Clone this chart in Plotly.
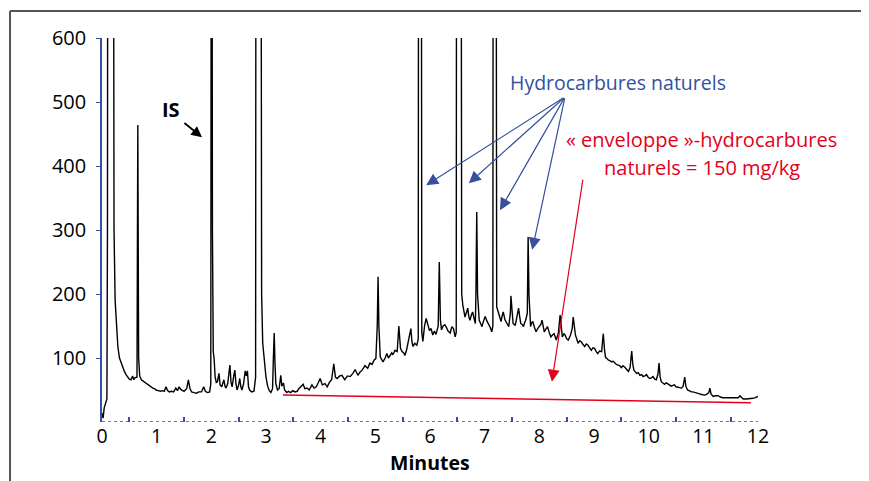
import plotly.graph_objects as go

# ----------------------------- Chart data ----------------------------- #
# chromatogram: retention time [min] / detector response
minutes = [
    0.00, 0.02, 0.04, 0.07, 0.09, 0.10, 0.11, 0.20, 0.22, 0.24, 0.26, 0.29, 0.32, 0.35, 0.38, 0.41, 0.44, 0.47, 0.50, 0.53,
    0.56, 0.58, 0.60, 0.64, 0.655, 0.67, 0.69, 0.72, 0.75, 0.78, 0.81, 0.84, 0.87, 0.90, 0.93, 0.96, 0.99, 1.03, 1.07, 1.11,
    1.14, 1.17, 1.20, 1.23, 1.27, 1.31, 1.35, 1.38, 1.41, 1.44, 1.47, 1.50, 1.55, 1.58, 1.61, 1.64, 1.68, 1.73, 1.77, 1.82,
    1.86, 1.89, 1.93, 1.97, 1.99, 2.005, 2.02, 2.035, 2.05, 2.07, 2.09, 2.11, 2.14, 2.16, 2.19, 2.21, 2.23, 2.25, 2.27, 2.30,
    2.34, 2.36, 2.38, 2.41, 2.43, 2.45, 2.47, 2.50, 2.52, 2.54, 2.56, 2.59, 2.62, 2.64, 2.66, 2.68, 2.70, 2.74, 2.78, 2.81,
    2.82, 2.90, 2.92, 2.94, 2.97, 3.00, 3.03, 3.06, 3.09, 3.12, 3.135, 3.15, 3.165, 3.18, 3.21, 3.24, 3.27, 3.29, 3.32, 3.34,
    3.38, 3.41, 3.45, 3.49, 3.53, 3.57, 3.60, 3.64, 3.68, 3.71, 3.75, 3.79, 3.84, 3.88, 3.92, 3.96, 3.99, 4.03, 4.08, 4.12,
    4.16, 4.20, 4.24, 4.27, 4.30, 4.35, 4.39, 4.44, 4.49, 4.54, 4.59, 4.63, 4.68, 4.72, 4.76, 4.81, 4.86, 4.90, 4.94, 4.98,
    5.01, 5.035, 5.05, 5.065, 5.09, 5.12, 5.14, 5.18, 5.21, 5.24, 5.27, 5.30, 5.32, 5.36, 5.40, 5.43, 5.46, 5.49, 5.52, 5.54,
    5.57, 5.60, 5.63, 5.65, 5.67, 5.69, 5.72, 5.76, 5.785, 5.795, 5.835, 5.85, 5.87, 5.90, 5.93, 5.96, 5.99, 6.02, 6.05, 6.08,
    6.11, 6.15, 6.17, 6.19, 6.21, 6.24, 6.27, 6.30, 6.33, 6.37, 6.40, 6.43, 6.46, 6.48, 6.49, 6.56, 6.58, 6.60, 6.62, 6.64,
    6.67, 6.69, 6.71, 6.73, 6.76, 6.78, 6.81, 6.83, 6.84, 6.855, 6.87, 6.90, 6.93, 6.95, 6.98, 7.01, 7.04, 7.07, 7.10, 7.13,
    7.15, 7.16, 7.20, 7.22, 7.25, 7.28, 7.30, 7.32, 7.34, 7.37, 7.40, 7.42, 7.44, 7.47, 7.48, 7.50, 7.52, 7.56, 7.59, 7.62,
    7.64, 7.66, 7.69, 7.71, 7.73, 7.75, 7.78, 7.795, 7.81, 7.84, 7.86, 7.88, 7.91, 7.94, 7.97, 8.00, 8.03, 8.05, 8.07, 8.09,
    8.12, 8.15, 8.18, 8.21, 8.24, 8.27, 8.31, 8.35, 8.38, 8.40, 8.42, 8.45, 8.47, 8.50, 8.53, 8.57, 8.60, 8.62, 8.64, 8.66,
    8.69, 8.71, 8.74, 8.77, 8.80, 8.83, 8.86, 8.89, 8.92, 8.95, 8.98, 9.01, 9.04, 9.07, 9.10, 9.14, 9.155, 9.17, 9.19, 9.21,
    9.24, 9.26, 9.29, 9.32, 9.35, 9.38, 9.41, 9.44, 9.47, 9.50, 9.53, 9.56, 9.60, 9.63, 9.66, 9.69, 9.71, 9.73, 9.76, 9.78,
    9.81, 9.84, 9.87, 9.90, 9.93, 9.96, 9.99, 10.02, 10.05, 10.08, 10.11, 10.14, 10.17, 10.19, 10.21, 10.23, 10.26, 10.29, 10.32, 10.35,
    10.38, 10.41, 10.44, 10.47, 10.50, 10.54, 10.57, 10.60, 10.63, 10.66, 10.68, 10.71, 10.74, 10.78, 10.81, 10.84, 10.88, 10.93, 10.97, 11.02,
    11.06, 11.10, 11.12, 11.14, 11.18, 11.22, 11.27, 11.31, 11.36, 11.41, 11.45, 11.50, 11.55, 11.61, 11.64, 11.67, 11.70, 11.73, 11.78, 11.82,
    11.87, 11.91, 11.95, 12.00,
]
response = [
    14, 6, 22, 30, 36, 300, 1500, 1500, 300, 190, 160, 118, 100, 92, 84, 79, 74, 71, 67, 66,
    72, 66, 69, 70, 464, 100, 72, 66, 64, 62, 60, 59, 56, 55, 53, 52, 50, 49, 48, 49,
    48, 55, 49, 47, 48, 47, 53, 49, 55, 51, 50, 48, 52, 66, 52, 47, 46, 45, 47, 47,
    55, 48, 46, 47, 60, 1500, 300, 110, 100, 70, 62, 63, 76, 58, 55, 62, 66, 56, 53, 60,
    89, 62, 55, 72, 81, 60, 50, 58, 68, 55, 50, 60, 80, 72, 80, 55, 50, 47, 48, 70,
    1500, 1500, 200, 123, 95, 70, 56, 49, 46, 52, 100, 139, 90, 60, 50, 52, 73, 56, 61, 50,
    46, 48, 46, 49, 47, 48, 52, 56, 59, 52, 53, 50, 58, 53, 55, 62, 68, 58, 60, 55,
    62, 66, 91, 70, 68, 72, 73, 66, 72, 71, 76, 82, 73, 78, 81, 88, 84, 92, 90, 97,
    99, 150, 227, 150, 102, 97, 94, 100, 107, 100, 104, 108, 105, 112, 110, 150, 115, 110, 108, 104,
    112, 125, 135, 146, 125, 118, 123, 120, 130, 1500, 1500, 140, 126, 150, 162, 150, 143, 146, 136, 142,
    137, 150, 250, 160, 144, 150, 152, 148, 142, 139, 149, 146, 133, 140, 1500, 1500, 200, 183, 170, 164,
    172, 178, 165, 159, 168, 172, 160, 154, 200, 328, 200, 159, 153, 149, 158, 165, 158, 154, 148, 141,
    150, 1500, 1500, 180, 170, 160, 157, 166, 172, 160, 154, 152, 149, 170, 197, 165, 154, 151, 162, 178,
    165, 154, 152, 149, 155, 159, 170, 289, 200, 149, 155, 157, 148, 141, 146, 149, 153, 159, 148, 141,
    145, 149, 140, 133, 136, 138, 128, 140, 167, 145, 133, 138, 136, 130, 128, 136, 145, 164, 145, 136,
    128, 123, 127, 125, 121, 118, 122, 120, 116, 112, 116, 115, 110, 107, 111, 110, 125, 138, 115, 101,
    99, 97, 96, 94, 95, 92, 90, 89, 88, 85, 88, 86, 82, 79, 85, 111, 90, 81, 78, 76,
    77, 73, 74, 71, 72, 74, 70, 68, 69, 71, 67, 66, 75, 92, 70, 63, 61, 59, 61, 60,
    58, 56, 57, 58, 55, 54, 53, 53, 56, 70, 56, 50, 49, 47, 47, 46, 45, 44, 43, 42,
    43, 46, 53, 44, 40, 41, 41, 39, 38, 38, 37, 38, 38, 37, 38, 41, 38, 36, 36, 36,
    37, 37, 38, 40,
]
assert len(minutes) == len(response)

x_ticks = list(range(0, 13))
y_ticks = [100, 200, 300, 400, 500, 600]

# "enveloppe" baseline drawn under the hump (start / end)
envelope_x = [3.31, 11.87]
envelope_y = [42, 30]

# arrows: tail -> head, in data units
hc_label = "Hydrocarbures naturels"
hc_tail = (8.47, 508)
hc_heads = [(5.93, 370), (6.71, 373), (7.28, 331), (7.87, 269)]
env_label = ["« enveloppe »-hydrocarbures", "naturels = 150 mg/kg"]
env_tail = (8.80, 381)
env_head = (8.23, 63)
is_tail = (1.48, 469)
is_head = (1.83, 445)

BLUE = "#34509e"
RED = "#e3001b"
FONT = "Open Sans"

fig = go.Figure()
fig.add_trace(
    go.Scatter(
        x=minutes,
        y=response,
        mode="lines",
        line=dict(color="black", width=1.4),
        hoverinfo="skip",
    )
)
fig.add_trace(
    go.Scatter(
        x=envelope_x,
        y=envelope_y,
        mode="lines",
        line=dict(color=RED, width=1.5),
        hoverinfo="skip",
    )
)

# dotted x axis line
fig.add_shape(type="line", xref="x", yref="y", x0=0, x1=12, y0=0, y1=0,
              line=dict(color=BLUE, width=1.5, dash="dot"))

# outer frame (only top and left visible)
fig.add_shape(type="line", xref="paper", yref="paper", x0=-0.1402, x1=1.17, y0=1.0703, y1=1.0703,
              line=dict(color="#555555", width=2))
fig.add_shape(type="line", xref="paper", yref="paper", x0=-0.1402, x1=-0.1402, y0=1.0703, y1=-0.16,
              line=dict(color="#555555", width=2))

# ------------------------------- Annotations ------------------------------- #
fig.add_annotation(x=9.44, y=530, text=hc_label, showarrow=False,
                   font=dict(family=FONT, size=19.5, color=BLUE))
for hx, hy in hc_heads:
    fig.add_annotation(x=hx, y=hy, ax=hc_tail[0], ay=hc_tail[1], axref="x", ayref="y",
                       text="", showarrow=True, arrowhead=2, arrowsize=2, arrowwidth=1.2,
                       arrowcolor=BLUE)

fig.add_annotation(x=10.96, y=441, text=env_label[0], showarrow=False,
                   font=dict(family=FONT, size=20, color=RED))
fig.add_annotation(x=10.97, y=398, text=env_label[1], showarrow=False,
                   font=dict(family=FONT, size=20, color=RED))
fig.add_annotation(x=env_head[0], y=env_head[1], ax=env_tail[0], ay=env_tail[1], axref="x", ayref="y",
                   text="", showarrow=True, arrowhead=2, arrowsize=2, arrowwidth=1.2, arrowcolor=RED)

fig.add_annotation(x=1.27, y=488, text="<b>IS</b>", showarrow=False,
                   font=dict(family=FONT, size=20, color="black"))
fig.add_annotation(x=is_head[0], y=is_head[1], ax=is_tail[0], ay=is_tail[1], axref="x", ayref="y",
                   text="", showarrow=True, arrowhead=2, arrowsize=1.2, arrowwidth=1.8, arrowcolor="black")

# x title as annotation, pushed just below the tick labels
fig.add_annotation(x=0.5, y=-0.105, xref="paper", yref="paper", yanchor="middle",
                   text="<b>Minutes</b>", showarrow=False,
                   font=dict(family=FONT, size=19.5, color="black"))

# ------------------------------ Figure Format ------------------------------ #
fig.update_xaxes(
    range=[0, 12],
    tickvals=x_ticks,
    ticks="",
    showgrid=False,
    zeroline=False,
    showline=False,
    tickfont=dict(family=FONT, size=19.5, color="black"),
    ticklabelstandoff=0,
    minor=dict(tickvals=[x + 0.5 for x in range(12)], ticks="inside", ticklen=5,
               tickcolor=BLUE, tickwidth=1.5, showgrid=False),
)
fig.update_yaxes(
    range=[0, 600],
    tickvals=y_ticks,
    ticks="outside",
    ticklen=4,
    tickcolor=BLUE,
    showgrid=False,
    zeroline=False,
    showline=True,
    linecolor=BLUE,
    linewidth=1.5,
    tickfont=dict(family=FONT, size=20, color="black"),
    ticklabelstandoff=6,
)
# the page body adds an 8 px offset, so the figure is kept 8 px smaller
fig.update_layout(
    width=861,
    height=473,
    margin=dict(l=94, r=111, t=30, b=59),
    plot_bgcolor="white",
    paper_bgcolor="white",
    showlegend=False,
)

fig.write_html("out.html")
